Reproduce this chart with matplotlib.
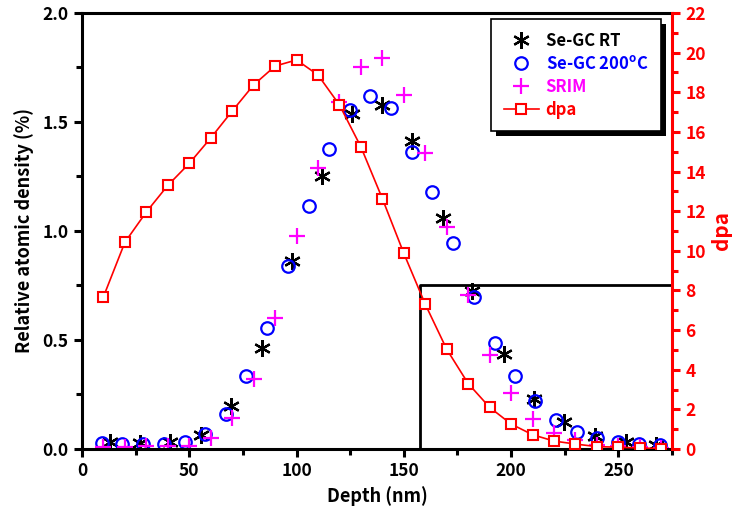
import numpy as np
import matplotlib
matplotlib.use('Agg')
import matplotlib.pyplot as plt
from matplotlib.patches import Rectangle

plt.rcParams['font.family'] = ['Noto Sans CJK JP', 'DejaVu Sans']
plt.rcParams['font.weight'] = 'bold'
plt.rcParams['mathtext.default'] = 'regular'

# Se-GC RT (black asterisks)
rt_depth = [13, 27, 41, 55.5, 69.5, 83.7, 98, 111.7, 126, 140, 154, 168.2,
            182, 196.6, 210.6, 224.6, 239, 253.7, 267.4]
rt_dens = [0.030, 0.027, 0.031, 0.065, 0.195, 0.462, 0.862, 1.250, 1.537, 1.576,
           1.412, 1.058, 0.725, 0.438, 0.231, 0.126, 0.061, 0.031, 0.019]

# Se-GC 200C (blue circles)
hot_depth = [9.4, 18.7, 28.5, 38.1, 47.8, 57.1, 66.9, 76.5, 86.3, 96, 105.7, 115,
             124.9, 134.2, 143.8, 153.6, 163.3, 172.9, 182.7, 192.5, 201.8, 211,
             221, 230.5, 240.2, 250, 259.6, 269.4]
hot_dens = [0.027, 0.024, 0.024, 0.024, 0.034, 0.070, 0.162, 0.333, 0.553, 0.840,
            1.116, 1.377, 1.556, 1.621, 1.564, 1.362, 1.181, 0.946, 0.698, 0.488,
            0.333, 0.220, 0.134, 0.077, 0.050, 0.031, 0.024, 0.019]

# SRIM (magenta plus)
srim_depth = list(range(10, 280, 10))
srim_dens = [0.011, 0.011, 0.016, 0.016, 0.016, 0.051, 0.143, 0.320, 0.603, 0.977,
             1.291, 1.590, 1.751, 1.794, 1.625, 1.357, 1.020, 0.706, 0.433, 0.257,
             0.139, 0.073, 0.040, 0.020, 0.015, 0.010, 0.005]

# dpa (red squares, right axis)
dpa_depth = list(range(10, 280, 10))
dpa = [7.68, 10.43, 11.96, 13.30, 14.41, 15.69, 17.05, 18.37, 19.32, 19.63, 18.87,
       17.36, 15.24, 12.63, 9.87, 7.30, 5.03, 3.30, 2.10, 1.26, 0.72, 0.40, 0.25,
       0.12, 0.09, 0.05, 0.02]

# corner of the marked region (depth, density)
box_x = 157.5
box_y = 0.752

fig = plt.figure(figsize=(7.42, 5.18), dpi=100)
ax = fig.add_axes([0.1105, 0.1332, 0.7952, 0.8418])
ax2 = ax.twinx()

asterisk = (6, 2, 0)
h1, = ax.plot(rt_depth, rt_dens, ls='none', marker=asterisk, ms=12, mew=1.6,
              color='black', label='Se-GC RT')
h2, = ax.plot(hot_depth, hot_dens, ls='none', marker='o', ms=9, mew=1.6,
              mfc='none', mec='blue', label='Se-GC 200$^{o}$C')
h3, = ax.plot(srim_depth, srim_dens, ls='none', marker='+', ms=12, mew=1.6,
              color='magenta', label='SRIM')
ax.plot([box_x, box_x, 275], [0, box_y, box_y], color='black', lw=2)

h4, = ax2.plot(dpa_depth, dpa, color='red', lw=1.2, marker='s', ms=7.5, mew=1.5,
               mfc='white', mec='red', label='dpa')

ax.set_xlim(0, 275)
ax.set_ylim(0, 2.0)
ax2.set_ylim(0, 22)

ax.set_xticks(np.arange(0, 251, 50))
ax.set_xticks(np.arange(25, 276, 50), minor=True)
ax.set_yticks(np.arange(0, 2.01, 0.5))
ax.set_yticks(np.arange(0.25, 2.0, 0.5), minor=True)
ax2.set_yticks(np.arange(0, 23, 2))
ax2.set_yticks(np.arange(1, 22, 2), minor=True)
ax.yaxis.set_major_formatter(matplotlib.ticker.FormatStrFormatter('%.1f'))

for s in ['left', 'bottom', 'top']:
    ax.spines[s].set_linewidth(2.2)
ax.spines['right'].set_visible(False)
for s in ['left', 'bottom', 'top']:
    ax2.spines[s].set_visible(False)
ax2.spines['right'].set_color('red')
ax2.spines['right'].set_linewidth(2.2)

ax.tick_params(axis='both', which='major', direction='out', length=6, width=2.2,
               labelsize=12.5)
ax.tick_params(axis='both', which='minor', direction='out', length=4, width=2.2)
ax.tick_params(axis='x', top=False, which='both')
ax2.tick_params(axis='y', which='major', direction='out', length=6, width=2.2,
                colors='red', labelsize=12.5)
ax2.tick_params(axis='y', which='minor', direction='out', length=4, width=2.2,
                colors='red')

ax.set_xlabel('Depth (nm)', fontsize=13, fontweight='bold')
ax.set_ylabel('Relative atomic density (%)', fontsize=13, fontweight='bold',
              labelpad=6)
ax2.set_ylabel('dpa', fontsize=15, fontweight='bold', color='red', labelpad=4)

leg = ax2.legend([h1, h2, h3, h4], ['Se-GC RT', 'Se-GC 200$^{o}$C', 'SRIM', 'dpa'],
                 loc='upper right', bbox_to_anchor=(0.981, 0.986), borderaxespad=0,
                 fancybox=False, shadow=False,
                 fontsize=12, handlelength=2.1, handletextpad=0.4,
                 labelspacing=0.3, borderpad=0.75, framealpha=1)
leg.get_frame().set_edgecolor('black')
leg.get_frame().set_linewidth(1.2)
for txt, c in zip(leg.get_texts(), ['black', 'blue', 'magenta', 'red']):
    txt.set_color(c)
    txt.set_fontweight('bold')

# solid drop shadow behind the legend, offset a few pixels
fig.canvas.draw()
bb = leg.get_window_extent()
shadow = Rectangle((bb.x0 + 5, bb.y0 - 5), bb.width, bb.height, transform=None,
                   facecolor='black', edgecolor='none', zorder=4.9, clip_on=False)
ax2.add_artist(shadow)

fig.savefig('out.png', dpi=100)
